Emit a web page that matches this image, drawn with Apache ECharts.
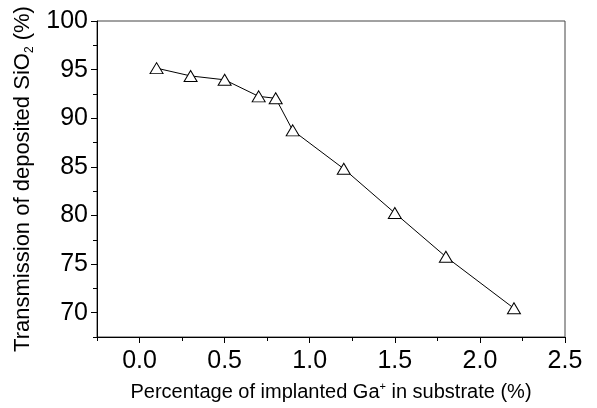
<!DOCTYPE html>
<html>
<head>
<meta charset="utf-8">
<script src="https://cdn.jsdelivr.net/npm/echarts@6/dist/echarts.min.js"></script>
<style>html,body{margin:0;padding:0;background:#fff}#c{width:597px;height:408px}</style>
</head>
<body>
<div id="c"></div>
<script>
const gaPercent = [0.1, 0.3, 0.5, 0.7, 0.8, 0.9, 1.2, 1.5, 1.8, 2.2];
const transmission = [95.15, 94.35, 93.95, 92.25, 92.05, 88.75, 84.8, 80.25, 75.75, 70.45];
const xMajorTicks = [0.0, 0.5, 1.0, 1.5, 2.0, 2.5];
const xMinorTicks = [-0.25, 0.25, 0.75, 1.25, 1.75, 2.25];
const yMajorTicks = [70, 75, 80, 85, 90, 95, 100];
const yMinorTicks = [67.5, 72.5, 77.5, 82.5, 87.5, 92.5, 97.5];

const FONT = 'Liberation Sans, Arial, sans-serif';
const chart = echarts.init(document.getElementById('c'), null, {renderer: 'canvas'});
const xRange = {min: -0.25, max: 2.5};
const yRange = {min: 67.5, max: 100};

chart.setOption({
  animation: false,
  backgroundColor: '#fff',
  grid: {left: 97, right: 32, top: 21, bottom: 71, show: true, borderColor: '#444', borderWidth: 1, backgroundColor: 'transparent'},
  xAxis: [{
    type: 'value', ...xRange, position: 'bottom',
    axisLine: {show: true, onZero: false, lineStyle: {color: '#000', width: 1}},
    axisTick: {show: true, inside: false, length: 6, customValues: xMajorTicks, lineStyle: {color: '#000'}},
    axisLabel: {show: true, margin: 12, customValues: xMajorTicks, formatter: v => v.toFixed(1), fontFamily: FONT, fontSize: 25, color: '#000'},
    splitLine: {show: false},
    name: '{n|Percentage of implanted Ga}{sup|+}{n| in substrate (%)}',
    nameLocation: 'middle', nameGap: 44,
    nameTextStyle: {fontFamily: FONT, color: '#000', rich: {
      n: {fontFamily: FONT, fontSize: 20, color: '#000', lineHeight: 22},
      sup: {fontFamily: FONT, fontSize: 11, color: '#000', lineHeight: 14, verticalAlign: 'top', padding: [0, 0, 6, 0]}
    }}
  }, {
    type: 'value', ...xRange, position: 'bottom',
    axisLine: {show: false, onZero: false},
    axisTick: {show: true, inside: false, length: 4, customValues: xMinorTicks, lineStyle: {color: '#000'}},
    axisLabel: {show: false},
    splitLine: {show: false}
  }],
  yAxis: [{
    type: 'value', ...yRange, position: 'left',
    axisLine: {show: true, onZero: false, lineStyle: {color: '#000', width: 1}},
    axisTick: {show: true, inside: false, length: 6, customValues: yMajorTicks, lineStyle: {color: '#000'}},
    axisLabel: {show: true, margin: 9, customValues: yMajorTicks, fontFamily: FONT, fontSize: 25, color: '#000'},
    splitLine: {show: false},
    name: '{n|Transmission of deposited SiO}{sub|2}{n| (%)}',
    nameLocation: 'middle', nameRotate: 90, nameGap: 61,
    nameTextStyle: {fontFamily: FONT, color: '#000', rich: {
      n: {fontFamily: FONT, fontSize: 22, color: '#000', lineHeight: 24},
      sub: {fontFamily: FONT, fontSize: 12, color: '#000', lineHeight: 12, verticalAlign: 'bottom'}
    }}
  }, {
    type: 'value', ...yRange, position: 'left',
    axisLine: {show: false, onZero: false},
    axisTick: {show: true, inside: false, length: 4, customValues: yMinorTicks, lineStyle: {color: '#000'}},
    axisLabel: {show: false},
    splitLine: {show: false}
  }],
  series: [{
    type: 'line',
    data: gaPercent.map((x, i) => [x, transmission[i]]),
    symbol: 'triangle', symbolSize: [13, 11],
    showAllSymbol: true,
    lineStyle: {color: '#000', width: 1},
    itemStyle: {color: '#fff', borderColor: '#000', borderWidth: 1},
    z: 3
  }]
});
</script>
</body>
</html>
